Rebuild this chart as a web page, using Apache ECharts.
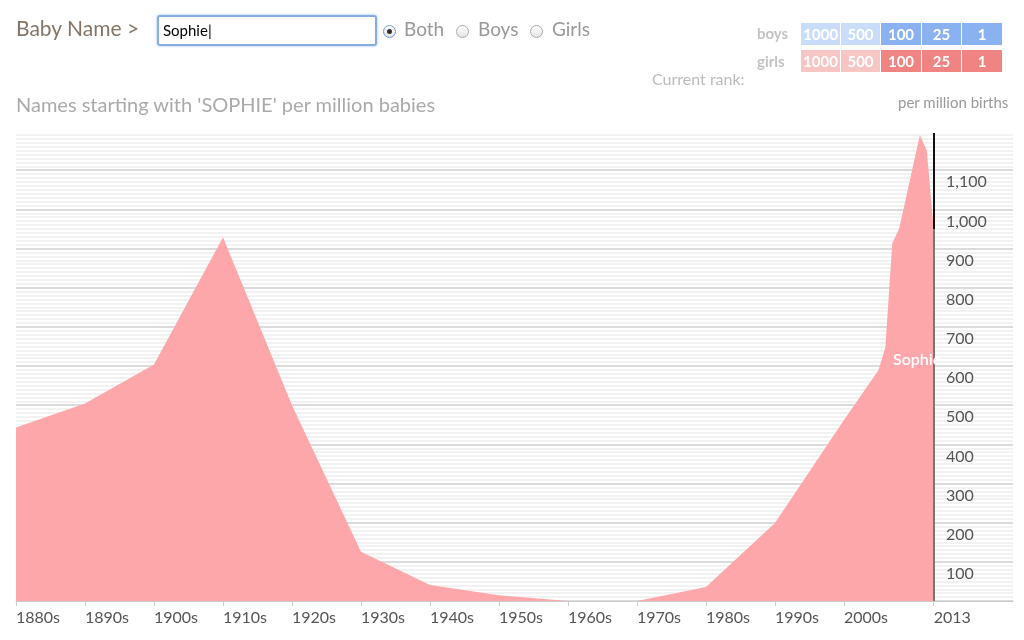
<!DOCTYPE html>
<html>
<head>
<meta charset="utf-8">
<script src="https://cdn.jsdelivr.net/npm/echarts@6/dist/echarts.min.js"></script>
<style>
  body { margin: 0; background: #fff; font-family: Lato, "Open Sans", sans-serif; }
  #wrap { position: relative; width: 1024px; height: 640px; overflow: hidden; }
  #chart { position: absolute; left: 0; top: 0; width: 1024px; height: 640px; }
  .abs { position: absolute; white-space: nowrap; }
  .radio { position: absolute; width: 11px; height: 11px; border: 1px solid #aaa; border-radius: 50%; background: linear-gradient(#fff, #e4e4e4); }
  .radio.on::after { content: ''; position: absolute; left: 3px; top: 3px; width: 5px; height: 5px; border-radius: 50%; background: #333; }
  .cell { position: absolute; height: 22px; line-height: 22px; color: #fff; font-weight: bold; font-size: 15px; text-align: center; }
</style>
</head>
<body>
<div id="wrap">
  <div id="chart"></div>
  <div class="abs" style="left:16px;top:15px;font-size:21px;color:#857566;">Baby Name &gt;</div>
  <div class="abs" style="left:157px;top:15px;width:212px;height:27px;border:2px solid #86ace0;border-radius:3px;box-shadow:0 0 3px #9cc0ee;font-size:15px;line-height:27px;padding-left:4px;color:#000;">Sophie<span style="font-weight:normal">|</span></div>
  <div class="radio on" style="left:383px;top:25px;border-color:#6f9ad0;"></div>
  <div class="abs" style="left:404px;top:17px;font-size:19px;color:#999;">Both</div>
  <div class="radio" style="left:456px;top:25px;"></div>
  <div class="abs" style="left:478px;top:17px;font-size:19px;color:#999;">Boys</div>
  <div class="radio" style="left:530px;top:25px;"></div>
  <div class="abs" style="left:552px;top:17px;font-size:19px;color:#999;">Girls</div>
  <div class="abs" style="left:16px;top:92px;font-size:20px;color:#aaa;">Names starting with 'SOPHIE' per million babies</div>
  <div class="abs" style="left:757px;top:24px;font-size:15px;font-weight:bold;color:#c4c4c4;">boys</div>
  <div class="abs" style="left:757px;top:52px;font-size:15px;font-weight:bold;color:#c4c4c4;">girls</div>
  <div class="abs" style="left:652px;top:69px;font-size:16px;color:#bbb;">Current rank:</div>
  <div class="abs" style="left:898px;top:93px;font-size:15px;color:#999;">per million births</div>
  <div id="ranks"></div>
</div>
<script>
// rank legend
const rankLabels = ['1000', '500', '100', '25', '1'];
const boyColors = ['#c9dcfa', '#c9dcfa', '#8ab1f0', '#8ab1f0', '#8ab1f0'];
const girlColors = ['#f8c5c5', '#f8c5c5', '#ef8482', '#ef8482', '#ef8482'];

// chart data: year, names per million
const years = [1880, 1890, 1900, 1910, 1920, 1930, 1940, 1950, 1960, 1970, 1980, 1990, 2000, 2005, 2006, 2007, 2008, 2009, 2010, 2011, 2012, 2013];
const perMillion = [443, 504, 604, 929, 500, 126, 41, 15, 0, 0, 36, 199, 462, 589, 648, 913, 951, 1030, 1110, 1189, 1150, 950];
const tickYears = [1880, 1890, 1900, 1910, 1920, 1930, 1940, 1950, 1960, 1970, 1980, 1990, 2000, 2013];

const cellLeft = [801, 841, 881, 922, 962];
const cellWidth = [39, 39, 40, 39, 40];
let html = '';
rankLabels.forEach((t, i) => {
  html += `<div class="cell" style="left:${cellLeft[i]}px;top:23px;width:${cellWidth[i]}px;background:${boyColors[i]}">${t}</div>`;
  html += `<div class="cell" style="left:${cellLeft[i]}px;top:50px;width:${cellWidth[i]}px;background:${girlColors[i]}">${t}</div>`;
});
document.getElementById('ranks').innerHTML = html;

const lastYear = years[years.length - 1];
const lastVal = perMillion[perMillion.length - 1];
const yMax = 1195;

var myChart = echarts.init(document.getElementById('chart'));
myChart.setOption({
  animation: false,
  textStyle: { fontFamily: 'Lato' },
  grid: { left: 16, right: 11, top: 133, bottom: 39 },
  xAxis: {
    type: 'value',
    min: 1880,
    max: 2024.5,
    splitLine: { show: false },
    axisLine: { lineStyle: { color: '#cccccc', width: 1 } },
    axisTick: {
      customValues: tickYears,
      length: 5,
      lineStyle: { color: '#cccccc' }
    },
    axisLabel: {
      customValues: tickYears,
      align: 'left',
      margin: 9,
      color: '#555',
      fontSize: 16,
      formatter: (v) => v === 2013 ? '2013' : v + 's'
    }
  },
  yAxis: {
    type: 'value',
    min: 0,
    max: yMax,
    interval: 100,
    position: 'right',
    offset: -80,
    axisLine: { show: false },
    axisTick: { show: false },
    axisLabel: {
      align: 'left',
      verticalAlign: 'top',
      margin: 13,
      padding: [4, 0, 0, 0],
      color: '#555',
      fontSize: 16,
      showMinLabel: false,
      showMaxLabel: false,
      formatter: (v) => v >= 1000 ? Math.floor(v / 1000) + ',' + String(v % 1000).padStart(3, '0') : String(v)
    },
    splitLine: { showMaxLine: false, lineStyle: { color: '#cfcfcf', width: 1.5 } },
    minorTick: { show: false, splitNumber: 10 },
    minorSplitLine: { show: true, lineStyle: { color: '#f2f2f2', width: 2 } }
  },
  graphic: [{
    type: 'text',
    left: 893,
    top: 352,
    z: 100,
    style: { text: 'Sophie', fill: '#fff', fontSize: 16, fontWeight: 600, fontFamily: 'Lato' }
  }],
  series: [{
    type: 'line',
    data: years.map((y, i) => [y, perMillion[i]]),
    symbol: 'none',
    lineStyle: { width: 0 },
    areaStyle: { color: '#fda7aa', opacity: 1 },
    markLine: {
      silent: true,
      symbol: 'none',
      label: { show: false },
      data: [
        [{ coord: [lastYear, 0], lineStyle: { color: '#777', width: 2, type: 'solid' } }, { coord: [lastYear, lastVal] }],
        [{ coord: [lastYear, lastVal], lineStyle: { color: '#111', width: 2, type: 'solid' } }, { coord: [lastYear, yMax] }]
      ]
    }
  }]
});
</script>
</body>
</html>
